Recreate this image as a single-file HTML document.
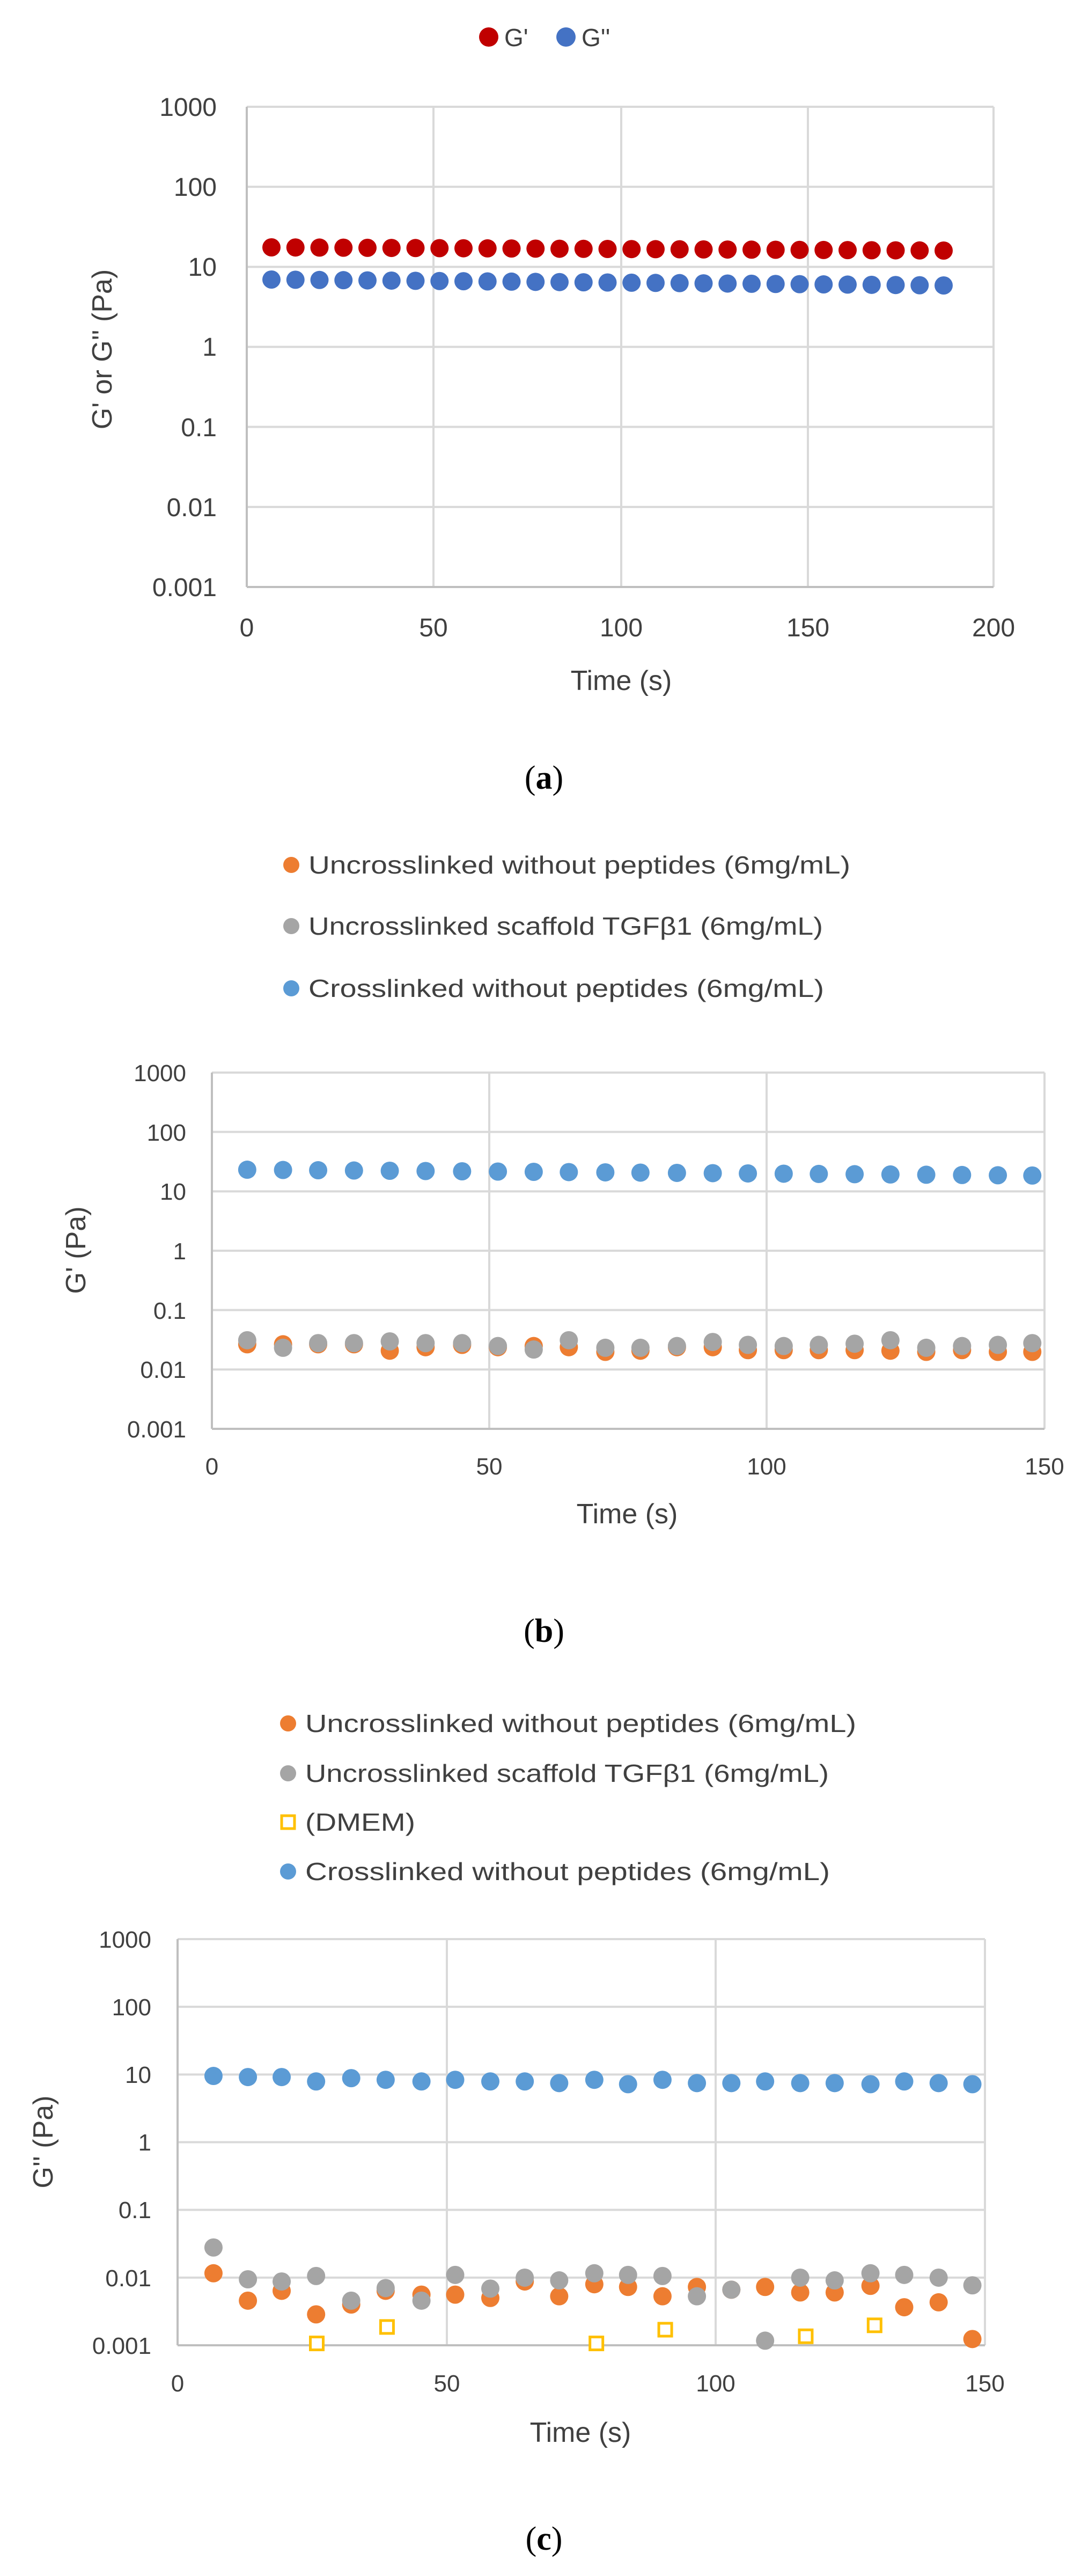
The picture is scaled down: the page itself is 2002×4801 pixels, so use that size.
<!DOCTYPE html>
<html><head><meta charset="utf-8"><style>
html,body{margin:0;padding:0;background:#fff;}
svg{display:block;}
text{font-family:"Liberation Sans",sans-serif;fill:#404040;}
.t{font-size:44px;}
.ta{font-size:48px;}
.ttl{font-size:52px;}
.lg{font-size:46px;}
.cap{font-family:"Liberation Serif",serif;font-size:62px;fill:#000;}
</style></head><body>
<svg id="s" width="2002" height="4801" viewBox="0 0 2002 4801" xmlns="http://www.w3.org/2000/svg">
<rect width="2002" height="4801" fill="#fff"/>
<g id="grid" stroke="#D9D9D9" stroke-width="4" fill="none"></g>
<!-- Chart a texts -->
<circle cx="911" cy="69" r="18" fill="#C00000"/>
<text class="lg" x="940" y="86">G'</text>
<circle cx="1055" cy="69" r="18" fill="#4472C4"/>
<text class="lg" x="1084" y="86">G''</text>
<g class="ta" text-anchor="end">
<text x="404" y="216">1000</text><text x="404" y="365">100</text><text x="404" y="514">10</text>
<text x="404" y="663">1</text><text x="404" y="813">0.1</text><text x="404" y="962">0.01</text><text x="404" y="1111">0.001</text>
</g>
<g class="ta" text-anchor="middle">
<text x="460" y="1186">0</text><text x="808" y="1186">50</text><text x="1158" y="1186">100</text><text x="1506" y="1186">150</text><text x="1852" y="1186">200</text>
</g>
<text class="ttl" x="1158" y="1286" text-anchor="middle">Time (s)</text>
<text class="ttl" transform="translate(208,651) rotate(-90)" text-anchor="middle">G' or G'' (Pa)</text>
<text class="cap" x="1014" y="1470" text-anchor="middle">(<tspan font-weight="bold">a</tspan>)</text>

<!-- Chart b texts -->
<circle cx="543" cy="1612" r="15" fill="#ED7D31"/>
<text class="lg" x="575" y="1628" textLength="1010" lengthAdjust="spacingAndGlyphs">Uncrosslinked without peptides (6mg/mL)</text>
<circle cx="543" cy="1726" r="15" fill="#A5A5A5"/>
<text class="lg" x="575" y="1742" textLength="959" lengthAdjust="spacingAndGlyphs">Uncrosslinked scaffold TGFβ1 (6mg/mL)</text>
<circle cx="543" cy="1842" r="15" fill="#5B9BD5"/>
<text class="lg" x="575" y="1858" textLength="961" lengthAdjust="spacingAndGlyphs">Crosslinked without peptides  (6mg/mL)</text>
<g class="t" text-anchor="end">
<text x="347" y="2015">1000</text><text x="347" y="2126">100</text><text x="347" y="2236">10</text>
<text x="347" y="2347">1</text><text x="347" y="2458">0.1</text><text x="347" y="2568">0.01</text><text x="347" y="2679">0.001</text>
</g>
<g class="t" text-anchor="middle">
<text x="395" y="2748">0</text><text x="912" y="2748">50</text><text x="1429" y="2748">100</text><text x="1947" y="2748">150</text>
</g>
<text class="ttl" x="1169" y="2839" text-anchor="middle">Time (s)</text>
<text class="ttl" transform="translate(159,2330) rotate(-90)" text-anchor="middle">G' (Pa)</text>
<text class="cap" x="1014" y="3060" text-anchor="middle">(<tspan font-weight="bold">b</tspan>)</text>

<!-- Chart c texts -->
<circle cx="537" cy="3212" r="15" fill="#ED7D31"/>
<text class="lg" x="569" y="3228" textLength="1027" lengthAdjust="spacingAndGlyphs">Uncrosslinked without peptides (6mg/mL)</text>
<circle cx="537" cy="3305" r="15" fill="#A5A5A5"/>
<text class="lg" x="569" y="3321" textLength="976" lengthAdjust="spacingAndGlyphs">Uncrosslinked scaffold TGFβ1 (6mg/mL)</text>
<rect x="525" y="3384" width="24" height="24" fill="#fff" stroke="#FFC000" stroke-width="5"/>
<text class="lg" x="569" y="3412" textLength="205" lengthAdjust="spacingAndGlyphs">(DMEM)</text>
<circle cx="537" cy="3488" r="15" fill="#5B9BD5"/>
<text class="lg" x="569" y="3504" textLength="978" lengthAdjust="spacingAndGlyphs">Crosslinked without peptides  (6mg/mL)</text>
<g class="t" text-anchor="end">
<text x="282" y="3630">1000</text><text x="282" y="3756">100</text><text x="282" y="3882">10</text>
<text x="282" y="4008">1</text><text x="282" y="4134">0.1</text><text x="282" y="4261">0.01</text><text x="282" y="4387">0.001</text>
</g>
<g class="t" text-anchor="middle">
<text x="331" y="4457">0</text><text x="833" y="4457">50</text><text x="1334" y="4457">100</text><text x="1836" y="4457">150</text>
</g>
<text class="ttl" x="1082" y="4551" text-anchor="middle">Time (s)</text>
<text class="ttl" transform="translate(98,3992) rotate(-90)" text-anchor="middle">G'' (Pa)</text>
<text class="cap" x="1014" y="4752" text-anchor="middle">(<tspan font-weight="bold">c</tspan>)</text>
<g id="pts"></g>
</svg>
<script>
(function(){
var NS="http://www.w3.org/2000/svg";
var grid=document.getElementById('grid'),pts=document.getElementById('pts');
function el(p,n,a){var e=document.createElementNS(NS,n);for(var k in a)e.setAttribute(k,a[k]);p.appendChild(e);return e;}
function line(x1,y1,x2,y2,c){el(grid,'line',{x1:x1,y1:y1,x2:x2,y2:y2,stroke:c||'#D9D9D9'});}
function chart(L,R,T,B,xs){
 var d=(B-T)/6;
 for(var i=0;i<6;i++)line(L,T+i*d,R,T+i*d);
 xs.forEach(function(x){line(x,T,x,B);});
 line(L,B,R,B,'#BFBFBF');line(L,T,L,B,'#BFBFBF');
}
chart(460,1852,199,1094,[808,1158,1506,1852]);
chart(395,1947,1999,2663,[912,1429,1947]);
chart(331,1836,3614,4371,[833,1334,1836]);
for(var i=0;i<29;i++){
 var x=506+i*(1759-506)/28;
 el(pts,'circle',{cx:x,cy:461+6*i/28,r:17,fill:'#C00000'});
 el(pts,'circle',{cx:x,cy:521+11*i/28,r:17,fill:'#4472C4'});
}
var sx=[359,411,462,514,566,618,671,723,775,826,879,930,983,1035,1086,1138,1189,1241,1293,1345,1397,1449,1499];
function bx(v){return v/0.779;} function by(v){return v/0.922+1500;}
var bo=[927,927,927,927,938,932,928,932,930,932,940,938,932,932,937,937,937,937,938,940,937,940,940];
var bg=[920,933,925,925,922,925,925,930,936,920,933,933,930,923,928,930,928,926,920,933,930,928,925];
for(var i=0;i<23;i++){
 var bl=627+10*i/22;
 el(pts,'circle',{cx:bx(sx[i]),cy:by(bo[i]),r:17,fill:'#ED7D31'});
 el(pts,'circle',{cx:bx(sx[i]),cy:by(bg[i]),r:17,fill:'#A5A5A5'});
 el(pts,'circle',{cx:bx(sx[i]),cy:by(bl),r:17,fill:'#5B9BD5'});
}
var cx=[310,360,409,459,510,560,612,661,712,762,812,863,912,962,1012,1062,1111,1162,1212,1264,1313,1363,1412];
function cy(v){return v/0.979+3200;}
var cb=[655,657,657,665,659,662,665,662,665,665,668,662,670,662,668,668,665,668,668,670,665,668,670];
var co=[1015,1065,1047,1090,1072,1047,1054,1054,1060,1030,1057,1035,1040,1057,1040,1045,1040,1050,1050,1038,1077,1068,1135];
var cg=[968,1026,1030,1020,1065,1042,1065,1018,1043,1023,1028,1015,1018,1020,1057,1045,1138,1023,1028,1015,1018,1023,1037];
for(var i=0;i<23;i++){
 el(pts,'circle',{cx:bx(cx[i]),cy:cy(co[i]),r:17,fill:'#ED7D31'});
 el(pts,'circle',{cx:bx(cx[i]),cy:cy(cg[i]),r:17,fill:'#A5A5A5'});
 el(pts,'circle',{cx:bx(cx[i]),cy:cy(cb[i]),r:17,fill:'#5B9BD5'});
}
[[460,1143],[562,1113],[866,1143],[966,1118],[1170,1130],[1270,1110]].forEach(function(p){
 el(pts,'rect',{x:bx(p[0])-12,y:cy(p[1])-12,width:24,height:24,fill:'#fff',stroke:'#FFC000','stroke-width':5});
});
})();
</script>
</body></html>
